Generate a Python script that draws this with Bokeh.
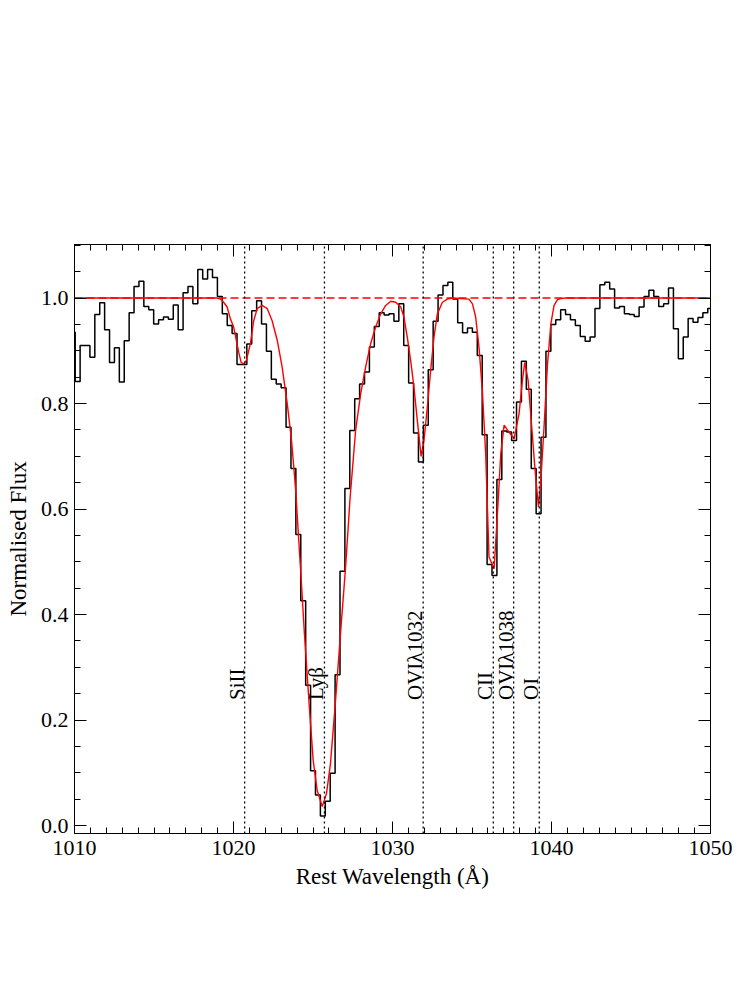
import numpy as np
from bokeh.plotting import figure
from bokeh.models import Range1d, LinearAxis, SingleIntervalTicker, PrintfTickFormatter, CustomJSTickFormatter
from bokeh.core.properties import value
from bokeh.embed import file_html
from bokeh.resources import INLINE

# ---------------- data ----------------
# observed spectrum: regular wavelength bins (start, width) and normalised flux per bin
bin_start = 1009.736
bin_width = 0.3084
flux = [0.935, 0.842, 0.910, 0.910, 0.888, 0.969, 0.991, 0.940, 0.878, 0.906,
        0.841, 0.919, 0.972, 1.022, 1.032, 0.984, 0.978, 0.951, 0.959, 0.964,
        0.960, 0.987, 0.940, 1.010, 1.022, 0.989, 1.054, 1.036, 1.054, 1.039,
        1.003, 0.970, 0.948, 0.933, 0.874, 0.874, 0.913, 0.976, 0.995, 0.951,
        0.899, 0.846, 0.837, 0.830, 0.755, 0.677, 0.552, 0.426, 0.266, 0.104,
        0.058, 0.018, 0.046, 0.099, 0.286, 0.482, 0.639, 0.749, 0.809, 0.837,
        0.860, 0.907, 0.946, 0.972, 0.968, 0.970, 0.956, 0.989, 0.910, 0.839,
        0.744, 0.689, 0.759, 0.864, 0.956, 1.006, 1.024, 1.030, 0.998, 0.953,
        0.934, 0.943, 0.935, 0.891, 0.741, 0.495, 0.474, 0.656, 0.748, 0.746,
        0.730, 0.803, 0.880, 0.827, 0.677, 0.591, 0.736, 0.899, 0.950, 0.959,
        0.978, 0.969, 0.959, 0.948, 0.927, 0.918, 0.926, 0.980, 1.025, 1.030,
        1.017, 0.981, 0.984, 0.970, 0.969, 0.965, 0.983, 1.003, 1.015, 1.003,
        0.984, 0.989, 1.019, 0.942, 0.885, 0.926, 0.961, 0.954, 0.963, 0.972,
        0.980]

# fitted absorption model
model_wave = [1010.0, 1018.97, 1019.18, 1019.38, 1019.60, 1019.80, 1020.01, 1020.33, 1020.48, 1020.64,
              1020.81, 1021.06, 1021.27, 1021.49, 1021.80, 1022.12, 1022.43, 1022.75, 1023.06, 1023.38,
              1023.65, 1023.90, 1024.21, 1024.46, 1024.74, 1025.01, 1025.26, 1025.58, 1025.85, 1026.10,
              1026.42, 1026.73, 1027.05, 1027.33, 1027.68, 1028.00, 1028.31, 1028.62, 1028.94, 1029.26,
              1029.57, 1029.89, 1030.20, 1030.52, 1030.72, 1030.93, 1031.14, 1031.35, 1031.56, 1031.80,
              1031.98, 1032.19, 1032.40, 1032.61, 1032.82, 1033.14, 1033.45, 1033.79, 1034.81, 1035.03,
              1035.23, 1035.44, 1035.65, 1035.86, 1036.07, 1036.39, 1036.60, 1036.81, 1037.02, 1037.33,
              1037.65, 1037.96, 1038.17, 1038.32, 1038.53, 1038.74, 1038.95, 1039.18, 1039.33, 1039.53,
              1039.75, 1039.96, 1040.16, 1040.38, 1040.59, 1040.90, 1050.0]
model_flux = [1.0, 1.0, 0.998, 0.992, 0.983, 0.961, 0.945, 0.897, 0.878, 0.875,
              0.882, 0.913, 0.957, 0.980, 0.986, 0.980, 0.957, 0.920, 0.869, 0.800,
              0.730, 0.640, 0.490, 0.364, 0.238, 0.124, 0.067, 0.036, 0.061, 0.118,
              0.238, 0.364, 0.490, 0.620, 0.749, 0.819, 0.869, 0.913, 0.945, 0.970,
              0.986, 0.994, 0.992, 0.983, 0.964, 0.926, 0.882, 0.831, 0.768, 0.700,
              0.730, 0.793, 0.863, 0.926, 0.970, 0.992, 0.998, 1.0, 0.998, 0.989,
              0.964, 0.907, 0.825, 0.705, 0.509, 0.487, 0.591, 0.705, 0.759, 0.746,
              0.733, 0.781, 0.844, 0.878, 0.844, 0.762, 0.680, 0.604, 0.654, 0.755,
              0.875, 0.951, 0.986, 0.997, 0.999, 1.0, 1.0]

continuum_level = 1.0

# identified transitions
line_names = ["SiII", "Lyβ", "OVIλ1032", "CII", "OVIλ1038", "OI"]
line_waves = [1020.70, 1025.72, 1031.93, 1036.34, 1037.62, 1039.23]
label_flux = 0.238

x_limits = (1010, 1050)
y_limits = (-0.015, 1.1015)

# ---------------- plot ----------------
FONT = "Liberation Serif"

p = figure(width=740, height=973, output_backend="svg", toolbar_location=None,
           x_range=Range1d(*x_limits), y_range=Range1d(*y_limits),
           min_border_left=74, min_border_right=30, min_border_top=244, min_border_bottom=140)
p.grid.visible = False
p.background_fill_color = "white"
p.border_fill_color = "white"
p.outline_line_color = "black"
p.outline_line_width = 1

# histogram spectrum
edges = bin_start + bin_width * np.arange(len(flux) + 1)
p.step(x=edges, y=flux + [flux[-1]], mode="after", line_color="black", line_width=1.5)

# continuum (dashed) and model (solid)
p.line(x=list(x_limits), y=[continuum_level, continuum_level], line_color="red",
       line_width=1.4, line_dash="8 4")
p.line(x=model_wave, y=model_flux, line_color="red", line_width=1.4)

# transition markers
for w in line_waves:
    p.line(x=[w, w], y=list(y_limits), line_color="black", line_width=1.3, line_dash="2 3")

p.text(x=line_waves, y=[label_flux] * len(line_waves), text=line_names, angle=np.pi / 2,
       text_align="left", text_baseline="alphabetic", x_offset=-8,
       text_font=value(FONT), text_font_size="21px", text_color="black")

# axes
def style_axis(ax, show_labels):
    ax.major_tick_in = 12
    ax.major_tick_out = 0
    ax.minor_tick_in = 6
    ax.minor_tick_out = 0
    ax.axis_line_color = "black"
    ax.major_tick_line_color = "black"
    ax.minor_tick_line_color = "black"
    ax.major_label_text_font = FONT
    ax.major_label_text_color = "black"
    ax.axis_label_text_font = FONT
    ax.axis_label_text_font_style = "normal"
    ax.axis_label_text_color = "black"
    if show_labels:
        ax.major_label_text_font_size = "22px"
        ax.axis_label_text_font_size = "23px"
    else:
        ax.formatter = CustomJSTickFormatter(code="return '';")
        ax.major_label_standoff = 0

xb = p.xaxis[0]
xb.ticker = SingleIntervalTicker(interval=10, num_minor_ticks=10)
xb.axis_label = "Rest Wavelength (Å)"
xb.major_label_standoff = 7
xb.axis_label_standoff = 6
style_axis(xb, True)

yl = p.yaxis[0]
yl.ticker = SingleIntervalTicker(interval=0.2, num_minor_ticks=4)
yl.formatter = PrintfTickFormatter(format="%.1f")
yl.axis_label = "Normalised Flux"
yl.major_label_standoff = 6
yl.axis_label_standoff = 7
style_axis(yl, True)

xt = LinearAxis(ticker=SingleIntervalTicker(interval=10, num_minor_ticks=10))
style_axis(xt, False)
p.add_layout(xt, "above")

yr = LinearAxis(ticker=SingleIntervalTicker(interval=0.2, num_minor_ticks=4))
style_axis(yr, False)
p.add_layout(yr, "right")

open("out.html", "w").write(file_html(p, INLINE))
